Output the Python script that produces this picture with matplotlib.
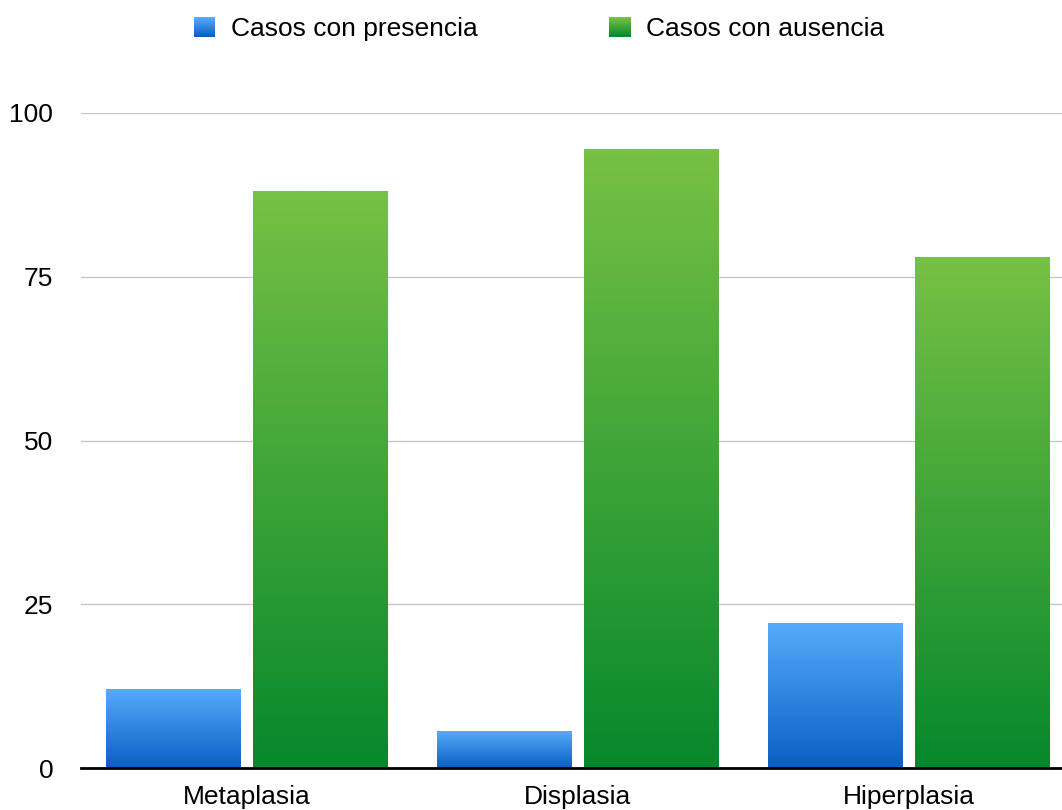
import numpy as np
import matplotlib
matplotlib.use("Agg")
import matplotlib.pyplot as plt
from matplotlib.colors import LinearSegmentedColormap
from matplotlib.legend_handler import HandlerBase
from matplotlib.patches import Rectangle

categories = ["Metaplasia", "Displasia", "Hiperplasia"]
presencia = [12, 5.5, 22]
ausencia = [88, 94.5, 78]
series_labels = ["Casos con presencia", "Casos con ausencia"]
yticks = [0, 25, 50, 75, 100]

blue_top, blue_bot = "#56abfb", "#0a5ec4"
green_top, green_bot = "#77c144", "#06882c"

plt.rcParams['font.family'] = ['Liberation Sans', 'DejaVu Sans']

fig = plt.figure(figsize=(10.62, 8.1), dpi=100)
ax = fig.add_axes([81/1062, 42/810, 993/1062, 655/810])

x = np.arange(len(categories))
w = 0.405
off = 0.222

def grad_bars(bars, top, bot):
    cmap = LinearSegmentedColormap.from_list("g", [bot, top])
    grad = np.linspace(0, 1, 256).reshape(-1, 1)
    for b in bars:
        b.set_facecolor("none")
        b.set_edgecolor("none")
        x0, y0 = b.get_x(), b.get_y()
        ax.imshow(grad, cmap=cmap, origin="lower", aspect="auto",
                  extent=[x0, x0 + b.get_width(), y0, y0 + b.get_height()],
                  zorder=2, interpolation="bilinear")

b1 = ax.bar(x - off, presencia, w, zorder=2)
b2 = ax.bar(x + off, ausencia, w, zorder=2)
grad_bars(b1, blue_top, blue_bot)
grad_bars(b2, green_top, green_bot)

ax.set_xlim(-0.5, 2.5)
ax.set_ylim(0, 100)
ax.set_yticks(yticks)
ax.set_xticks(x)
ax.set_xticklabels(categories)
ax.tick_params(axis="both", length=0, labelsize=19)
ax.tick_params(axis="y", pad=20)
ax.tick_params(axis="x", pad=12)
for t in yticks[1:]:
    ax.axhline(t, color="#c8c8c8", lw=1, zorder=1)
for s in ["top", "right", "left"]:
    ax.spines[s].set_visible(False)
ax.spines["bottom"].set_linewidth(2)
ax.spines["bottom"].set_color("black")
ax.spines["bottom"].set_zorder(3)


class GradHandler(HandlerBase):
    def __init__(self, top, bot):
        super().__init__()
        self.top, self.bot = top, bot

    def create_artists(self, legend, orig_handle, xdescent, ydescent, width,
                       height, fontsize, trans):
        cmap = LinearSegmentedColormap.from_list("g", [self.bot, self.top])
        n = 20
        arts = []
        for i in range(n):
            r = Rectangle((-xdescent, -ydescent + height * i / n), width,
                          height / n + 0.3, facecolor=cmap(i / (n - 1)),
                          edgecolor="none", transform=trans)
            arts.append(r)
        return arts


h1 = Rectangle((0, 0), 1, 1)
h2 = Rectangle((0, 0), 1, 1)
fig.legend([h1, h2], series_labels, loc="center", bbox_to_anchor=(539/1062, 1 - 29/810),
           ncol=2, frameon=False, fontsize=19, handlelength=0.83, handleheight=0.78,
           handletextpad=0.57, columnspacing=5.0,
           handler_map={h1: GradHandler(blue_top, blue_bot),
                        h2: GradHandler(green_top, green_bot)})

fig.savefig("out.png", dpi=100)
